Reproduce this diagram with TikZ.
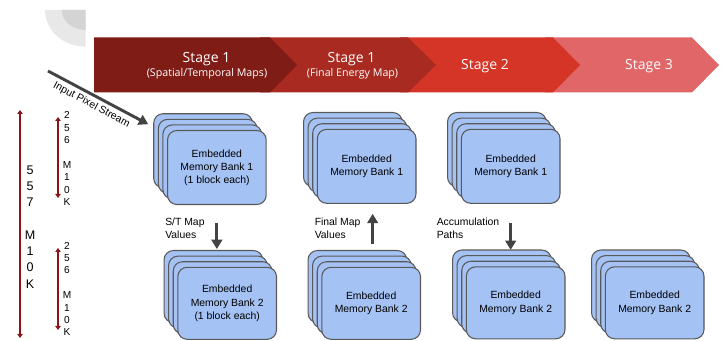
\documentclass[tikz,border=0pt]{standalone}
\usepackage{fontspec}
\setmainfont{Liberation Sans}
\newfontfamily\stagefont{Open Sans}
\usetikzlibrary{arrows.meta,calc}
\definecolor{stageA}{RGB}{127,28,22}
\definecolor{stageB}{RGB}{168,42,32}
\definecolor{stageC}{RGB}{212,53,38}
\definecolor{stageD}{RGB}{224,102,104}
\definecolor{bankfill}{RGB}{164,194,244}
\definecolor{bankdraw}{RGB}{89,89,89}
\definecolor{arrowgray}{RGB}{67,67,67}
\definecolor{scalered}{RGB}{140,20,20}
\definecolor{grayA}{RGB}{232,232,232}
\definecolor{grayB}{RGB}{212,212,212}
\tikzset{
  bankbox/.style={draw=bankdraw, fill=bankfill, line width=0.8pt, rounded corners=7pt,
    anchor=north west, minimum width=74pt, inner sep=0pt, align=center,
    font=\fontsize{7.8}{9.8}\selectfont},
  bigarrow/.style={draw=arrowgray, line width=2.2pt, -{Triangle[length=7pt,width=8pt]}},
  scalebar/.style={draw=scalered, line width=1.9pt, {Triangle[length=3pt,width=4pt]}-{Triangle[length=3pt,width=4pt]}},
  lbl/.style={font=\fontsize{7.8}{9.6}\selectfont, align=left, inner sep=0pt, anchor=west},
  stagetxt/.style={text=white, font=\stagefont\fontsize{10.5}{12}\selectfont, inner sep=0pt},
  stagesub/.style={text=white, font=\stagefont\fontsize{8}{10}\selectfont, inner sep=0pt},
}
\newcommand{\bankstack}[5]{%
  \foreach \k in {0,1,2} {
    \node[bankbox, minimum height=#4] (#1-\k) at ({#2+4.6*\k},{#3+5.6*\k}) {};
  }
  \node[bankbox, minimum height=#4] (#1) at ({#2+13.8},{#3+16.8}) {#5};
}
\begin{document}
\begin{tikzpicture}[x=0.75pt,y=-0.75pt]
\useasboundingbox (0,0) rectangle (725,341);
% decoration
\fill[grayA] (45,10) -- (85.7,10) -- (85.7,46.7) .. controls (63.2,46.7) and (45,30.3) .. (45,10) -- cycle;
\fill[grayB] (61.7,10) -- (85.7,10) -- (85.7,30) .. controls (72.45,30) and (61.7,21) .. (61.7,10) -- cycle;
% banner
\fill[stageD] (545,37.5) -- (692,37.5) -- (719,65) -- (692,92.5) -- (545,92.5) -- cycle;
\fill[stageC] (400,37.5) -- (553,37.5) -- (580,65) -- (553,92.5) -- (400,92.5) -- cycle;
\fill[stageB] (260,37.5) -- (408,37.5) -- (436,65) -- (408,92.5) -- (260,92.5) -- cycle;
\fill[stageA] (94,37.5) -- (270,37.5) -- (297,65) -- (270,92.5) -- (94,92.5) -- cycle;
\node[stagetxt] (s1) at (206.5,59) {Stage 1};
\node[stagesub] (s1sub) at (207,74) {(Spatial/Temporal Maps)};
\node[stagetxt] (s1b) at (351.5,59) {Stage 1};
\node[stagesub] (s1bsub) at (352.5,74) {(Final Energy Map)};
\node[stagetxt] (s2) at (485,66) {Stage 2};
\node[stagetxt] (s3) at (649,66) {Stage 3};
% banks
\bankstack{b11}{153.2}{113.2}{55.5pt}{Embedded\\Memory Bank 1\\(1 block each)}
\bankstack{b12}{163.5}{250}{54pt}{Embedded\\Memory Bank 2\\(1 block each)}
\bankstack{b21}{303}{112}{55.5pt}{Embedded\\Memory Bank 1}
\bankstack{b22}{307.5}{250}{54pt}{Embedded\\Memory Bank 2}
\bankstack{b31}{447}{112}{55.5pt}{Embedded\\Memory Bank 1}
\bankstack{b32}{452}{249.5}{54pt}{Embedded\\Memory Bank 2}
\bankstack{b42}{591}{249.5}{54pt}{Embedded\\Memory Bank 2}
% input arrow
\coordinate (inp) at (48,71);
\draw[bigarrow] (inp) -- ($(b11-0.north west)+(-5,11)$);
\node[font=\fontsize{7.8}{9.6}\selectfont, inner sep=0pt, rotate=-28] (inplbl) at (91.5,105) {Input Pixel Stream};
% vertical arrows
\draw[bigarrow] ($(b11.south)+(0,18)$) -- ($(b11.south)+(0,44)$);
\node[lbl] (stlbl) at (165,228) {S/T Map\\Values};
\draw[bigarrow] ($(b21.south)+(6,40)$) -- ($(b21.south)+(6,10)$);
\node[lbl] (fmlbl) at (314.5,228) {Final Map\\Values};
\draw[bigarrow] ($(b31.south)+(0,19)$) -- ($(b31.south)+(0,46)$);
\node[lbl] (aclbl) at (436.5,228) {Accumulation\\Paths};
% scale bars
\coordinate (bigtop) at (20,110);
\coordinate (bigbot) at (20,338);
\draw[scalebar] (bigtop) -- (bigbot);
\node[font=\fontsize{9.4}{12.2}\selectfont, align=center, inner sep=0pt] (biglbl) at (30,227) {5\\5\\7\\[12.2pt]M\\1\\0\\K};
\coordinate (s1top) at (58,117);
\coordinate (s1bot) at (58,198);
\draw[scalebar] (s1top) -- (s1bot);
\node[font=\fontsize{7.6}{9.3}\selectfont, align=center, inner sep=0pt] (sm1lbl) at (67,158.5) {2\\5\\6\\[9.3pt]M\\1\\0\\K};
\coordinate (s2top) at (58,248);
\coordinate (s2bot) at (58,330);
\draw[scalebar] (s2top) -- (s2bot);
\node[font=\fontsize{7.6}{9.3}\selectfont, align=center, inner sep=0pt] (sm2lbl) at (67,289) {2\\5\\6\\[9.3pt]M\\1\\0\\K};
\end{tikzpicture}
\end{document}
